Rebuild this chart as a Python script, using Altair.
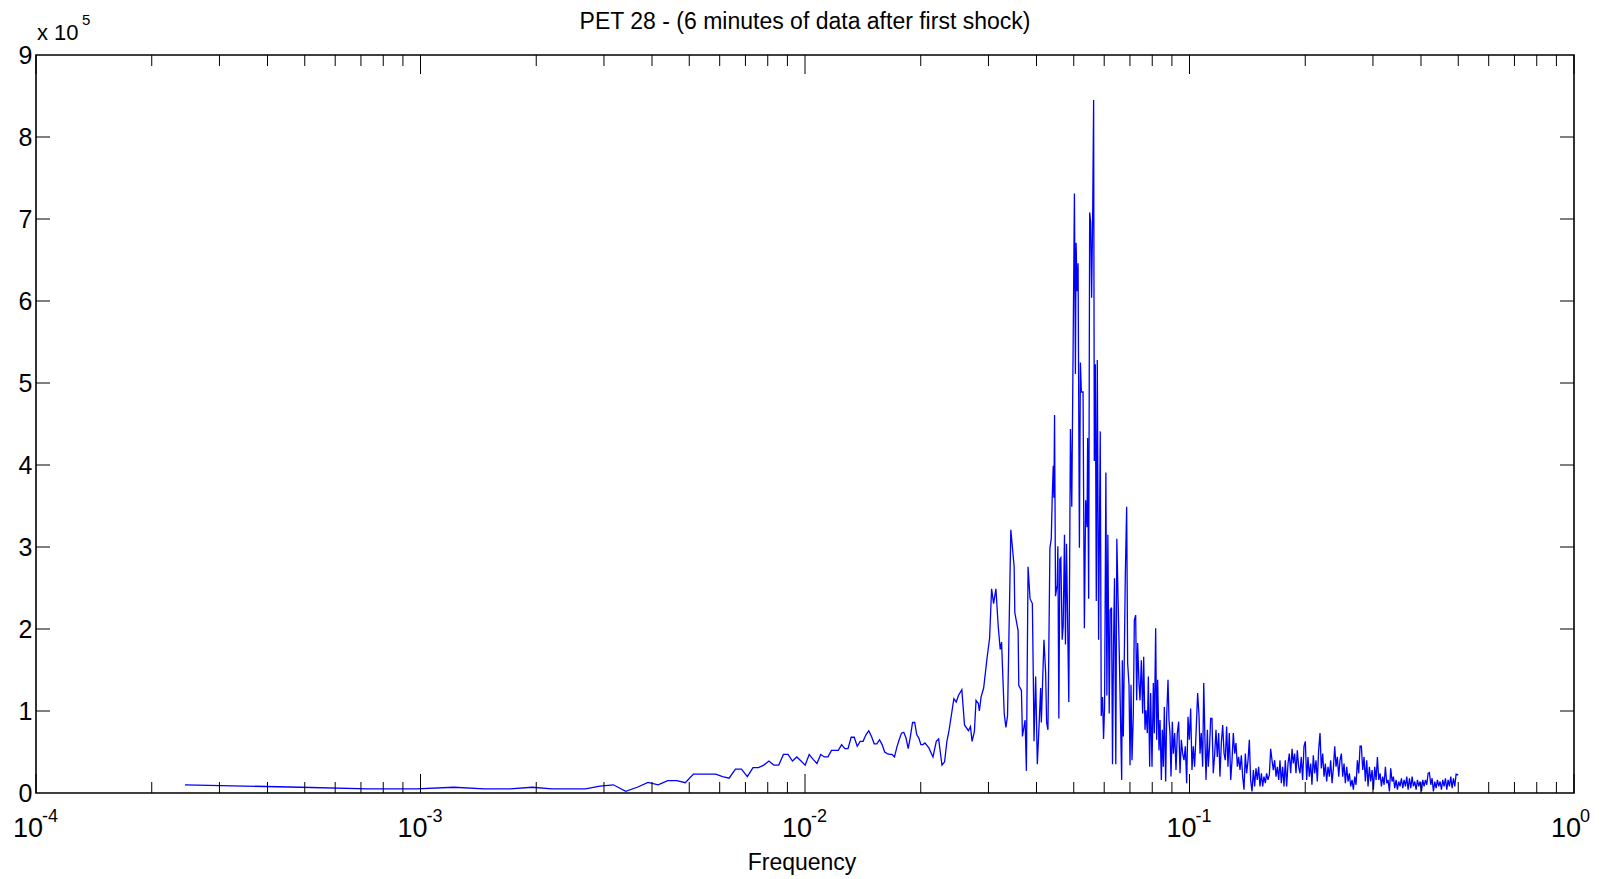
import altair as alt
import pandas as pd

TITLE = "PET 28 - (6 minutes of data after first shock)"
X_LABEL = "Frequency"
FONT = "Liberation Sans"

# ---- spectrum, power in units of 1e5 ----
freq_low = [0.000244, 0.000488, 0.000732, 0.000977, 0.001221, 0.001465, 0.001709, 0.001953, 0.002197, 0.002441,
            0.002686, 0.00293, 0.003174, 0.003418, 0.003662, 0.003906, 0.00415, 0.004395, 0.004639, 0.004883,
            0.005127, 0.005371, 0.005615, 0.005859, 0.006104, 0.006348, 0.006592, 0.006836, 0.00708, 0.007324,
            0.007568, 0.007813, 0.008057, 0.008301, 0.008545, 0.008789, 0.009033, 0.009277, 0.009521, 0.009766,
            0.01001, 0.010254, 0.010498, 0.010742, 0.010986, 0.01123, 0.011475, 0.011719, 0.011963, 0.012207,
            0.012451, 0.012695, 0.012939, 0.013184, 0.013428, 0.013672, 0.013916, 0.01416, 0.014404, 0.014648,
            0.014893, 0.015137, 0.015381, 0.015625, 0.015869, 0.016113, 0.016357, 0.016602, 0.016846, 0.01709,
            0.017334, 0.017578, 0.017822, 0.018066, 0.018311, 0.018555, 0.018799, 0.019043, 0.019287, 0.019531,
            0.019775, 0.02002, 0.020264, 0.020508, 0.020752, 0.020996]
pow_low = [0.10, 0.07, 0.05, 0.05, 0.07, 0.05, 0.05, 0.07, 0.05, 0.05,
           0.05, 0.085, 0.10, 0.02, 0.07, 0.13, 0.10, 0.15, 0.15, 0.125,
           0.23, 0.23, 0.23, 0.23, 0.20, 0.18, 0.29, 0.29, 0.20, 0.31,
           0.31, 0.34, 0.39, 0.34, 0.34, 0.47, 0.47, 0.39, 0.44, 0.39,
           0.34, 0.47, 0.41, 0.36, 0.47, 0.44, 0.44, 0.52, 0.52, 0.52,
           0.59, 0.54, 0.54, 0.68, 0.68, 0.57, 0.63, 0.63, 0.71, 0.76,
           0.69, 0.60, 0.60, 0.65, 0.59, 0.50, 0.48, 0.47, 0.47, 0.44,
           0.56, 0.65, 0.73, 0.74, 0.67, 0.54, 0.69, 0.86, 0.86, 0.71,
           0.67, 0.59, 0.59, 0.61, 0.58, 0.55]

freq_mid = [0.02152, 0.02195, 0.02226, 0.02271, 0.02307, 0.02339, 0.02367, 0.02439, 0.02473, 0.02507,
            0.02558, 0.02599, 0.02661, 0.02693, 0.0272, 0.02758, 0.02785, 0.02824, 0.02841, 0.0287,
            0.02915, 0.02974, 0.03021, 0.03057, 0.03094, 0.03137, 0.03181, 0.03219, 0.03245, 0.03297,
            0.0333, 0.03363, 0.0343, 0.03499, 0.03513, 0.03583, 0.03598, 0.03655, 0.03677, 0.03736,
            0.03765, 0.03803, 0.03848, 0.03902, 0.03925, 0.03941, 0.0398, 0.0402, 0.0406, 0.04101,
            0.04117, 0.04183, 0.04225, 0.0425, 0.04284, 0.04335, 0.0437, 0.04395, 0.04422, 0.04439,
            0.04457, 0.04483, 0.04528, 0.04546, 0.04573, 0.046, 0.04628, 0.04665, 0.04693, 0.0473,
            0.04758, 0.04787, 0.04854, 0.04902, 0.04941, 0.0502, 0.0505, 0.0507, 0.05101, 0.05131,
            0.05172, 0.05203, 0.05234, 0.05286, 0.05328, 0.0537, 0.05413, 0.05434, 0.05467, 0.055,
            0.05533, 0.05565, 0.05599, 0.05632, 0.05655, 0.05689, 0.05722, 0.05757, 0.05802, 0.0586,
            0.05895, 0.05942, 0.05977, 0.06013, 0.06061, 0.06097, 0.06133, 0.06183, 0.06219, 0.06269,
            0.06306, 0.06344, 0.06382, 0.06432, 0.06471, 0.06522, 0.06574]
pow_mid = [0.44, 0.63, 0.66, 0.34, 0.38, 0.63, 0.75, 1.15, 1.11, 1.19,
           1.26, 0.83, 0.76, 0.81, 0.63, 0.75, 1.13, 1.09, 1.0, 1.17,
           1.28, 1.64, 1.89, 2.49, 2.31, 2.49, 2.03, 1.75, 1.84, 0.97,
           0.8, 0.94, 3.21, 2.76, 2.2, 1.98, 1.31, 1.25, 0.69, 0.89,
           0.27, 2.76, 2.37, 2.31, 1.39, 0.63, 1.42, 0.35, 0.8, 1.28,
           0.86, 1.87, 1.47, 0.86, 0.77, 2.99, 3.1, 3.6, 3.99, 3.6,
           4.61, 2.4, 2.54, 3.01, 0.91, 2.85, 2.87, 1.87, 2.03, 3.15,
           1.81, 3.04, 1.11, 4.44, 3.49, 7.31, 5.11, 6.71, 6.12, 6.46,
           2.99, 5.25, 4.89, 4.89, 2.01, 3.57, 3.24, 4.33, 2.37, 7.08,
           6.96, 6.04, 7.02, 8.45, 4.05, 5.23, 2.34, 5.28, 1.87, 4.41,
           0.94, 1.17, 0.66, 1.05, 3.91, 1.19, 3.15, 0.97, 2.23, 2.26,
           0.35, 1.78, 2.62, 0.35, 3.1, 2.34, 1.59]

freq_hi = [0.06662, 0.06688, 0.06728, 0.0681, 0.06864, 0.06905, 0.06961, 0.07003, 0.07045, 0.07087,
           0.07144, 0.07187, 0.07244, 0.07288, 0.07331, 0.0739, 0.07435, 0.07494, 0.07554, 0.076,
           0.07661, 0.07707, 0.07768, 0.07815, 0.07878, 0.07925, 0.07989, 0.08053, 0.08101, 0.08166,
           0.08215, 0.08264, 0.08331, 0.08381, 0.08448, 0.08499, 0.0855, 0.08601, 0.0867, 0.08722,
           0.08792, 0.08845, 0.08898, 0.08951, 0.09023, 0.09077, 0.0915, 0.09223, 0.09297, 0.09372,
           0.09447, 0.09523, 0.09599, 0.09676, 0.09754, 0.09832, 0.09911, 0.0999, 0.1007, 0.1015,
           0.1023, 0.1031, 0.104, 0.105, 0.1059, 0.1065, 0.1073, 0.1082, 0.1089, 0.1097,
           0.1104, 0.1113, 0.1119, 0.1128, 0.1135, 0.1144, 0.1153, 0.1163, 0.1172, 0.1181,
           0.1191, 0.12, 0.121, 0.122, 0.123, 0.1239, 0.1249, 0.1259, 0.1269, 0.128,
           0.129, 0.13, 0.1311, 0.1321, 0.1332, 0.1342, 0.1353, 0.1364, 0.1375, 0.1386,
           0.1397, 0.1408, 0.142, 0.1431, 0.1442, 0.1454, 0.1466, 0.1477, 0.1489, 0.1501,
           0.1513, 0.1525, 0.1538, 0.155, 0.1562, 0.1575, 0.1587, 0.16, 0.1613, 0.1626,
           0.1639, 0.1652, 0.1665, 0.1679, 0.1692, 0.1706, 0.1719, 0.1733, 0.1747, 0.1761,
           0.1775, 0.1789, 0.1804, 0.1818, 0.1833, 0.1848, 0.1862, 0.1877, 0.1892, 0.1907,
           0.1923]
pow_hi = [0.16, 1.62, 0.69, 2.68, 3.49, 1.58, 1.32, 0.34, 1.32, 0.4,
          0.97, 2.11, 2.17, 1.13, 1.83, 1.34, 1.13, 1.62, 0.97, 1.66,
          0.77, 1.01, 0.73, 1.42, 0.32, 1.22, 0.32, 1.34, 0.73, 2.01,
          0.65, 1.38, 0.52, 0.89, 0.16, 0.77, 0.32, 1.05, 0.14, 0.93,
          1.38, 0.89, 0.73, 0.2, 0.87, 0.48, 0.73, 0.28, 0.73, 0.87,
          0.24, 0.65, 0.48, 0.4, 0.57, 0.12, 0.93, 0.65, 1.03, 0.28,
          0.57, 0.32, 0.73, 1.22, 0.93, 0.48, 0.73, 0.32, 1.34, 0.65,
          0.16, 0.77, 0.32, 0.57, 0.91, 0.91, 0.24, 0.48, 0.77, 0.44,
          0.73, 0.2, 0.61, 0.83, 0.48, 0.4, 0.81, 0.32, 0.73, 0.16,
          0.4, 0.73, 0.48, 0.61, 0.32, 0.44, 0.28, 0.46, 0.2, 0.04,
          0.48, 0.24, 0.4, 0.65, 0.16, 0.02, 0.28, 0.08, 0.3, 0.16,
          0.32, 0.08, 0.24, 0.08, 0.2, 0.12, 0.24, 0.16, 0.22, 0.54,
          0.4, 0.28, 0.4, 0.2, 0.32, 0.16, 0.4, 0.12, 0.32, 0.08,
          0.4, 0.08, 0.36, 0.48, 0.24, 0.54, 0.36, 0.48, 0.24, 0.52,
          0.32]

freq_tail = [0.1938, 0.1953, 0.1969, 0.1985, 0.2001, 0.2017, 0.2033, 0.2049, 0.2066, 0.2082,
             0.2099, 0.2116, 0.2133, 0.215, 0.2167, 0.2185, 0.2202, 0.222, 0.2238, 0.2256,
             0.2274, 0.2292, 0.2311, 0.2329, 0.2348, 0.2367, 0.2386, 0.2405, 0.2424, 0.2444,
             0.2463, 0.2483, 0.2503, 0.2523, 0.2543, 0.2564, 0.2584, 0.2605, 0.2626, 0.2647,
             0.2668, 0.269, 0.2711, 0.2733, 0.2755, 0.2777, 0.2799, 0.2822, 0.2844, 0.2867,
             0.289, 0.2913, 0.2937, 0.296, 0.2984, 0.3008, 0.3032, 0.3057, 0.3081, 0.3106,
             0.3131, 0.3156, 0.3181, 0.3207, 0.3232, 0.3258, 0.3284, 0.3311, 0.3337, 0.3364,
             0.3391, 0.3418, 0.3446, 0.3473, 0.3501, 0.3529, 0.3558, 0.3586, 0.3615, 0.3644,
             0.3673, 0.3703, 0.3733, 0.3763, 0.3793, 0.3823, 0.3854, 0.3885, 0.3916, 0.3947,
             0.3979, 0.4011, 0.4043, 0.4075, 0.4108, 0.4141, 0.4174, 0.4207, 0.4241, 0.4275,
             0.4309, 0.4344, 0.4379, 0.4414, 0.4449, 0.4485, 0.4521, 0.4557, 0.4594, 0.4631,
             0.4668, 0.4705, 0.4743, 0.4781, 0.4819, 0.4858, 0.4897, 0.4936, 0.5]
pow_tail = [0.24, 0.44, 0.16, 0.57, 0.63, 0.16, 0.44, 0.2, 0.36, 0.1,
            0.46, 0.24, 0.4, 0.14, 0.52, 0.73, 0.3, 0.48, 0.2, 0.36,
            0.14, 0.32, 0.2, 0.4, 0.12, 0.3, 0.57, 0.32, 0.44, 0.2,
            0.4, 0.48, 0.2, 0.36, 0.12, 0.32, 0.14, 0.24, 0.08, 0.16,
            0.04, 0.2, 0.1, 0.4, 0.24, 0.57, 0.57, 0.28, 0.44, 0.14,
            0.4, 0.08, 0.32, 0.14, 0.28, 0.04, 0.32, 0.16, 0.44, 0.16,
            0.24, 0.08, 0.2, 0.1, 0.32, 0.12, 0.16, 0.02, 0.3, 0.14,
            0.2, 0.06, 0.16, 0.04, 0.14, 0.08, 0.18, 0.06, 0.16, 0.08,
            0.2, 0.04, 0.18, 0.06, 0.2, 0.08, 0.14, 0.04, 0.16, 0.08,
            0.14, 0.02, 0.16, 0.08, 0.16, 0.1, 0.24, 0.25, 0.1, 0.18,
            0.02, 0.14, 0.06, 0.16, 0.08, 0.14, 0.04, 0.16, 0.08, 0.18,
            0.04, 0.16, 0.08, 0.2, 0.06, 0.18, 0.08, 0.23, 0.22]

freqs = freq_low + freq_mid + freq_hi + freq_tail
powers = pow_low + pow_mid + pow_hi + pow_tail
n = min(len(freqs), len(powers))
df = pd.DataFrame({"f": freqs[:n], "p": powers[:n]})

# ---- axes furniture ----
y_ticks = [0, 1, 2, 3, 4, 5, 6, 7, 8, 9]
decades = [1e-4, 1e-3, 1e-2, 1e-1, 1.0]
decade_exp = ["-4", "-3", "-2", "-1", "0"]
minor = [m * d for d in decades[:-1] for m in range(2, 10)]

W, H = 1538, 738
xs = alt.Scale(type="log", domain=[1e-4, 1], nice=False)
ys = alt.Scale(domain=[0, 9], nice=False)

line = alt.Chart(df).mark_line(color="#0000ff", strokeWidth=1.3, clip=True).encode(
    x=alt.X("f:Q", scale=xs, axis=None),
    y=alt.Y("p:Q", scale=ys, axis=alt.Axis(values=y_ticks, format="d", ticks=False, domain=False,
                                            grid=False, labelFont=FONT, labelFontSize=25,
                                            labelColor="black", labelPadding=4, title=None)),
)

maj_df = pd.DataFrame({"f": decades})
min_df = pd.DataFrame({"f": minor})
yt_df = pd.DataFrame({"p": y_ticks[1:-1]})

def xticks(d, L):
    bot = alt.Chart(d).mark_rule(color="black", strokeWidth=1).encode(
        x=alt.X("f:Q", scale=xs), y=alt.value(H), y2=alt.value(H - L))
    top = alt.Chart(d).mark_rule(color="black", strokeWidth=1).encode(
        x=alt.X("f:Q", scale=xs), y=alt.value(0), y2=alt.value(L))
    return bot + top

ytl = alt.Chart(yt_df).mark_rule(color="black", strokeWidth=1).encode(
    y=alt.Y("p:Q", scale=ys), x=alt.value(0), x2=alt.value(14))
ytr = alt.Chart(yt_df).mark_rule(color="black", strokeWidth=1).encode(
    y=alt.Y("p:Q", scale=ys), x=alt.value(W), x2=alt.value(W - 14))

lab_df = pd.DataFrame({"f": decades, "e": decade_exp})
lab10 = alt.Chart(lab_df).mark_text(font=FONT, fontSize=27, align="right", baseline="alphabetic",
                                    dx=7, color="black").encode(
    x=alt.X("f:Q", scale=xs), y=alt.value(H + 44), text=alt.value("10"))
labexp = alt.Chart(lab_df).mark_text(font=FONT, fontSize=18, align="left", baseline="alphabetic",
                                     dx=6, color="black").encode(
    x=alt.X("f:Q", scale=xs), y=alt.value(H + 29), text="e:N")

one = pd.DataFrame({"a": [0]})
title = alt.Chart(one).mark_text(font=FONT, fontSize=23, align="center", baseline="alphabetic",
                                 color="black").encode(
    x=alt.value(W / 2), y=alt.value(-26), text=alt.value(TITLE))
xlab = alt.Chart(one).mark_text(font=FONT, fontSize=23, align="center", baseline="alphabetic",
                                color="black").encode(
    x=alt.value(W / 2 - 3), y=alt.value(H + 77), text=alt.value(X_LABEL))
mult = alt.Chart(one).mark_text(font=FONT, fontSize=22, align="left", baseline="alphabetic",
                                color="black").encode(
    x=alt.value(1), y=alt.value(-15), text=alt.value("x 10"))
mult5 = alt.Chart(one).mark_text(font=FONT, fontSize=15, align="left", baseline="alphabetic",
                                 color="black").encode(
    x=alt.value(46), y=alt.value(-30), text=alt.value("5"))

chart = alt.layer(
    line, xticks(maj_df, 19), xticks(min_df, 11), ytl, ytr, lab10, labexp, title, xlab, mult, mult5
).properties(
    width=W, height=H,
    autosize=alt.AutoSizeParams(type="none"),
    padding={"left": 36, "top": 55, "right": 34, "bottom": 86},
).configure(
    background="white",
    view=alt.ViewConfig(stroke="black", strokeWidth=1.6),
)

chart.save("out.html", embed_options={"renderer": "svg", "actions": False})
